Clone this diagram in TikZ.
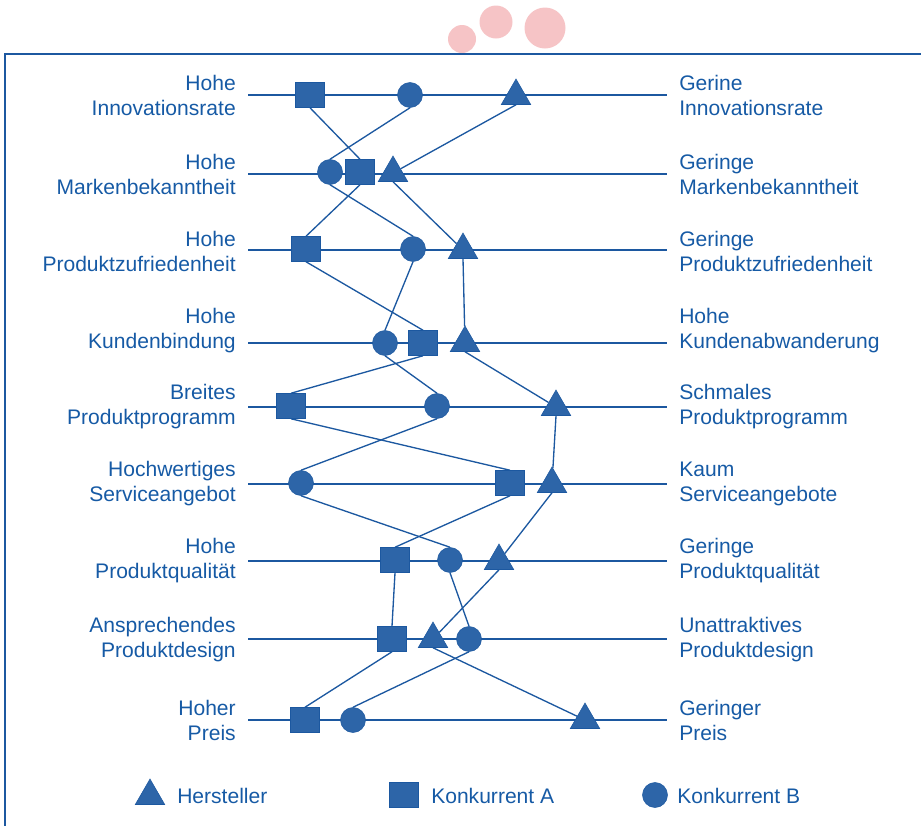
\documentclass[tikz,border=0pt]{standalone}
\usepackage{fontspec}
\setmainfont{Liberation Sans}
\usetikzlibrary{shapes.geometric}
\definecolor{bluefill}{RGB}{45,101,168}
\definecolor{blueline}{RGB}{28,88,160}
\definecolor{bluetext}{RGB}{22,90,165}
\definecolor{pinkdot}{RGB}{246,196,198}
\begin{document}
\begin{tikzpicture}[x=0.75pt,y=-0.75pt,
    sq/.style={draw=blueline,fill=bluefill,minimum width=21.75pt,minimum height=18.75pt,inner sep=0},
    circ/.style={circle,draw=blueline,fill=bluefill,minimum size=18.75pt,inner sep=0},
    tri/.style={regular polygon,regular polygon sides=3,draw=blueline,fill=bluefill,minimum size=25.5pt,inner sep=0},
    lefttxt/.style={anchor=east,align=right,text=bluetext,inner sep=0,font=\fontsize{15.8}{18.75}\selectfont},
    righttxt/.style={anchor=west,align=left,text=bluetext,inner sep=0,font=\fontsize{15.8}{18.75}\selectfont},
    axis/.style={blueline,line width=1.25pt},
    link/.style={blueline,line width=1pt}]
  \useasboundingbox (0,0) rectangle (921,825);
  % frame and dots
  \draw[blueline,line width=1.5pt] (921,54) -- (5,54) -- (5,826);
  \fill[pinkdot] (462,39) circle (14);
  \fill[pinkdot] (496,22) circle (16.5);
  \fill[pinkdot] (545,28) circle (20.5);

  % labels
  \node[lefttxt] (l1) at (236,95) {Hohe\\Innovationsrate};
  \node[lefttxt] (l2) at (236,174) {Hohe\\Markenbekanntheit};
  \node[lefttxt] (l3) at (236,251) {Hohe\\Produktzufriedenheit};
  \node[lefttxt] (l4) at (236,331) {Hohe\\Kundenbindung};
  \node[lefttxt] (l5) at (236,407) {Breites\\Produktprogramm};
  \node[lefttxt] (l6) at (236,484) {Hochwertiges\\Serviceangebot};
  \node[lefttxt] (l7) at (236,561) {Hohe\\Produktqualität};
  \node[lefttxt] (l8) at (236,640) {Ansprechendes\\Produktdesign};
  \node[lefttxt] (l9) at (236,720) {Hoher\\Preis};

  \node[righttxt] (r1) at (679,95) {Gerine\\Innovationsrate};
  \node[righttxt] (r2) at (679,174) {Geringe\\Markenbekanntheit};
  \node[righttxt] (r3) at (679,251) {Geringe\\Produktzufriedenheit};
  \node[righttxt] (r4) at (679,331) {Hohe\\Kundenabwanderung};
  \node[righttxt] (r5) at (679,407) {Schmales\\Produktprogramm};
  \node[righttxt] (r6) at (679,484) {Kaum\\Serviceangebote};
  \node[righttxt] (r7) at (679,561) {Geringe\\Produktqualität};
  \node[righttxt] (r8) at (679,640) {Unattraktives\\Produktdesign};
  \node[righttxt] (r9) at (679,720) {Geringer\\Preis};

  % scales
  \draw[axis] (248,95) -- (667,95);
  \draw[axis] (248,174) -- (667,174);
  \draw[axis] (248,250) -- (667,250);
  \draw[axis] (248,343) -- (667,343);
  \draw[axis] (248,407) -- (667,407);
  \draw[axis] (248,484) -- (667,484);
  \draw[axis] (248,561) -- (667,561);
  \draw[axis] (248,639) -- (667,639);
  \draw[axis] (248,720) -- (667,720);

  % Konkurrent A
  \node[sq] (s1) at (310,95) {};
  \node[sq] (s2) at (360,172) {};
  \node[sq] (s3) at (306,249) {};
  \node[sq] (s4) at (423,343) {};
  \node[sq] (s5) at (291,406) {};
  \node[sq] (s6) at (510,483) {};
  \node[sq] (s7) at (395,560) {};
  \node[sq] (s8) at (392,639) {};
  \node[sq] (s9) at (305,720) {};
  % Konkurrent B
  \node[circ] (c1) at (410,95) {};
  \node[circ] (c2) at (330,172) {};
  \node[circ] (c3) at (413,249) {};
  \node[circ] (c4) at (385,343) {};
  \node[circ] (c5) at (437,406) {};
  \node[circ] (c6) at (301,483) {};
  \node[circ] (c7) at (450,560) {};
  \node[circ] (c8) at (469,639) {};
  \node[circ] (c9) at (353,720) {};
  % Hersteller
  \node[tri] (t1) at (516,96) {};
  \node[tri] (t2) at (393,173) {};
  \node[tri] (t3) at (463,250) {};
  \node[tri] (t4) at (465,343) {};
  \node[tri] (t5) at (556,407) {};
  \node[tri] (t6) at (552,484) {};
  \node[tri] (t7) at (499,561) {};
  \node[tri] (t8) at (433,639) {};
  \node[tri] (t9) at (585,720) {};

  % profiles
  \foreach \a/\b in {1/2,2/3,3/4,4/5,5/6,6/7,7/8,8/9} {
    \draw[link] (s\a.south) -- (s\b.north);
    \draw[link] (c\a.south) -- (c\b.north);
    \draw[link] (t\a.south) -- (t\b);
  }

  % legend
  \node[tri] (kt) at (150,796) {};
  \node[righttxt] (kth) at (177,796) {Hersteller};
  \node[sq] (ks) at (404,795) {};
  \node[righttxt] (ksa) at (431,796) {Konkurrent A};
  \node[circ] (kc) at (655,795) {};
  \node[righttxt] (kcb) at (677,796) {Konkurrent B};
\end{tikzpicture}
\end{document}
